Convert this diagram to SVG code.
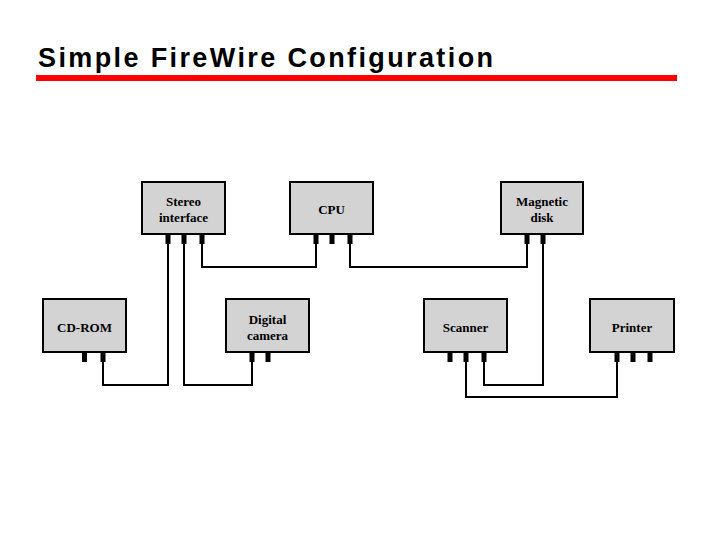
<svg xmlns="http://www.w3.org/2000/svg" width="720" height="540" viewBox="0 0 720 540">
<style>
.box{fill:#d3d3d3;stroke:#000;stroke-width:2}
.lbl{font-family:"Liberation Serif",serif;font-weight:bold;font-size:13px;text-anchor:middle;fill:#000}
.port{fill:#000}
.wire{fill:none;stroke:#000;stroke-width:2}
</style>
<rect width="720" height="540" fill="#fff"/>
<text x="38" y="67" font-family="Liberation Sans, Arial, sans-serif" font-weight="bold" font-size="27" textLength="455" lengthAdjust="spacing">Simple FireWire Configuration</text>
<rect x="36" y="75" width="641" height="6" fill="#f00"/>
<g id="connectors">
<polyline class="wire" points="202,244 202,267 316,267 316,244"/>
<polyline class="wire" points="350,244 350,267 527,267 527,244"/>
<polyline class="wire" points="103,362 103,385 168,385 168,244"/>
<polyline class="wire" points="252,362 252,385 184,385 184,244"/>
<polyline class="wire" points="543,244 543,385 484,385 484,362"/>
<polyline class="wire" points="466,362 466,397 617,397 617,362"/>
</g>
<g id="stereo">
<rect class="box" x="142" y="182" width="83" height="52"/>
<text class="lbl" x="183.5" y="206">Stereo</text>
<text class="lbl" x="183.5" y="222">interface</text>
<rect class="port" x="165.5" y="234" width="5" height="10"/>
<rect class="port" x="181.5" y="234" width="5" height="10"/>
<rect class="port" x="199.5" y="234" width="5" height="10"/>
</g>
<g id="cpu">
<rect class="box" x="290" y="182" width="83" height="52"/>
<text class="lbl" x="331.5" y="214">CPU</text>
<rect class="port" x="313.5" y="234" width="5" height="10"/>
<rect class="port" x="329.5" y="234" width="5" height="10"/>
<rect class="port" x="347.5" y="234" width="5" height="10"/>
</g>
<g id="disk">
<rect class="box" x="501" y="182" width="82" height="52"/>
<text class="lbl" x="542" y="206">Magnetic</text>
<text class="lbl" x="542" y="222">disk</text>
<rect class="port" x="524.5" y="234" width="5" height="10"/>
<rect class="port" x="540.5" y="234" width="5" height="10"/>
</g>
<g id="cdrom">
<rect class="box" x="43" y="299" width="83" height="53"/>
<text class="lbl" x="84.5" y="332">CD-ROM</text>
<rect class="port" x="82" y="352" width="5" height="10"/>
<rect class="port" x="100.5" y="352" width="5" height="10"/>
</g>
<g id="camera">
<rect class="box" x="226" y="299" width="83" height="53"/>
<text class="lbl" x="267.5" y="324">Digital</text>
<text class="lbl" x="267.5" y="340">camera</text>
<rect class="port" x="249.5" y="352" width="5" height="10"/>
<rect class="port" x="265.5" y="352" width="5" height="10"/>
</g>
<g id="scanner">
<rect class="box" x="424" y="299" width="83" height="53"/>
<text class="lbl" x="465.5" y="332">Scanner</text>
<rect class="port" x="447.5" y="352" width="5" height="10"/>
<rect class="port" x="463.5" y="352" width="5" height="10"/>
<rect class="port" x="481.5" y="352" width="5" height="10"/>
</g>
<g id="printer">
<rect class="box" x="590" y="299" width="84" height="53"/>
<text class="lbl" x="632" y="332">Printer</text>
<rect class="port" x="614.5" y="352" width="5" height="10"/>
<rect class="port" x="630.5" y="352" width="5" height="10"/>
<rect class="port" x="647.5" y="352" width="5" height="10"/>
</g>
</svg>
